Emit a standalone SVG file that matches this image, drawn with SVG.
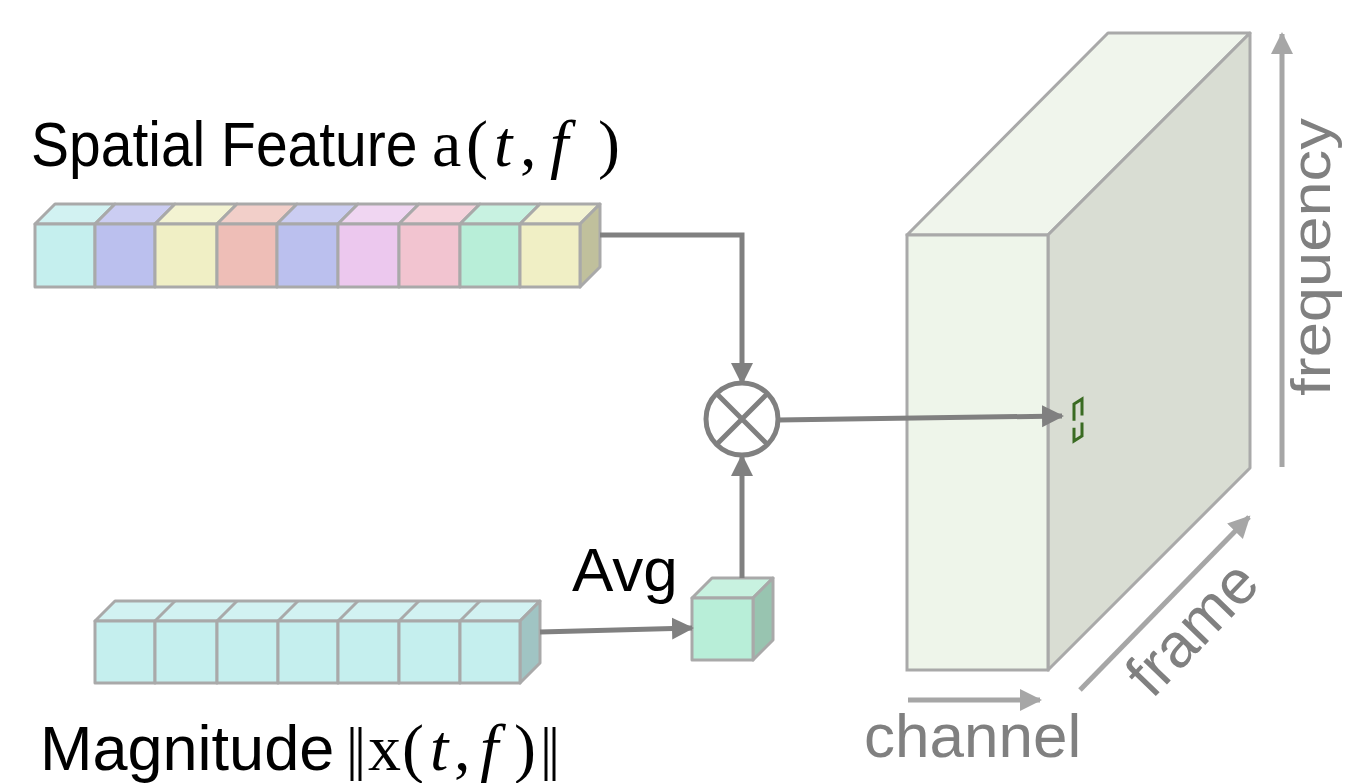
<svg xmlns="http://www.w3.org/2000/svg" width="1357" height="783" viewBox="0 0 1357 783">
<defs>
<style>
.cell{stroke:#a9a9a9;stroke-width:3;stroke-linejoin:round}
.lbl{font-family:"Liberation Sans",Arial,sans-serif;fill:#000}
.math{font-family:"Liberation Serif","Times New Roman",serif;fill:#000}
.axis{font-family:"Liberation Sans",Arial,sans-serif;fill:#808080}
.conn{stroke:#808080;stroke-width:5;fill:none}
.ax{stroke:#a6a6a6;stroke-width:5;fill:none}
</style>
<marker id="ah" markerUnits="userSpaceOnUse" markerWidth="24" markerHeight="24" refX="20" refY="11" orient="auto"><path d="M0,0 L22,11 L0,22 Z" fill="#808080"/></marker>
<marker id="ah2" markerUnits="userSpaceOnUse" markerWidth="24" markerHeight="24" refX="20" refY="11" orient="auto"><path d="M0,0 L22,11 L0,22 Z" fill="#a6a6a6"/></marker>
</defs>
<rect width="1357" height="783" fill="#fff"/>

<g id="spatial-label">
<text class="lbl" font-size="57" transform="translate(31,166) scale(1,1.1)">Spatial Feature</text>
<text class="math" y="166" font-size="66"><tspan x="432">a</tspan><tspan x="466">(</tspan><tspan x="494" font-style="italic">t</tspan><tspan x="520">,</tspan><tspan x="550" font-style="italic">f</tspan><tspan x="598">)</tspan></text>
</g>

<g id="spatial-bar">
<polygon class="cell" points="35,224 55,204 115,204 95,224" fill="#d2f2f2"/>
<polygon class="cell" points="95,224 115,204 175,204 155,224" fill="#cbcdf2"/>
<polygon class="cell" points="155,224 175,204 237,204 217,224" fill="#f3f3d2"/>
<polygon class="cell" points="217,224 237,204 297,204 277,224" fill="#f2cfc9"/>
<polygon class="cell" points="277,224 297,204 358,204 338,224" fill="#cbcdf2"/>
<polygon class="cell" points="338,224 358,204 419,204 399,224" fill="#f0d6f2"/>
<polygon class="cell" points="399,224 419,204 480,204 460,224" fill="#f5d3dc"/>
<polygon class="cell" points="460,224 480,204 540,204 520,224" fill="#c8f2e1"/>
<polygon class="cell" points="520,224 540,204 600,204 580,224" fill="#f3f3d2"/>
<polygon class="cell" points="580,224 600,204 600,267 580,287" fill="#c0c09c"/>
<rect class="cell" x="35" y="224" width="60" height="63" fill="#c5efee"/>
<rect class="cell" x="95" y="224" width="60" height="63" fill="#bbc0ee"/>
<rect class="cell" x="155" y="224" width="62" height="63" fill="#f0efc5"/>
<rect class="cell" x="217" y="224" width="60" height="63" fill="#eebeb7"/>
<rect class="cell" x="277" y="224" width="61" height="63" fill="#bbc0ee"/>
<rect class="cell" x="338" y="224" width="61" height="63" fill="#ecc8ee"/>
<rect class="cell" x="399" y="224" width="61" height="63" fill="#f2c4d0"/>
<rect class="cell" x="460" y="224" width="60" height="63" fill="#b8eed8"/>
<rect class="cell" x="520" y="224" width="60" height="63" fill="#f0efc5"/>
</g>

<g id="magnitude-bar">
<polygon class="cell" points="95,621 115,601 540,601 520,621" fill="#d2f2f2"/>
<polygon class="cell" points="520,621 540,601 540,663 520,683" fill="#a0c4c3"/>
<path class="cell" d="M155,621 L175,601 M217,621 L237,601 M278,621 L298,601 M338,621 L358,601 M399,621 L419,601 M460,621 L480,601" fill="none"/>
<rect class="cell" x="95" y="621" width="60" height="62" fill="#c5efee"/>
<rect class="cell" x="155" y="621" width="62" height="62" fill="#c5efee"/>
<rect class="cell" x="217" y="621" width="61" height="62" fill="#c5efee"/>
<rect class="cell" x="278" y="621" width="60" height="62" fill="#c5efee"/>
<rect class="cell" x="338" y="621" width="61" height="62" fill="#c5efee"/>
<rect class="cell" x="399" y="621" width="61" height="62" fill="#c5efee"/>
<rect class="cell" x="460" y="621" width="60" height="62" fill="#c5efee"/>
</g>

<g id="magnitude-label">
<text class="lbl" x="40" y="770" font-size="63">Magnitude</text>
<text class="math" y="768" font-size="60" letter-spacing="-4"><tspan x="346">||</tspan><tspan x="540">||</tspan></text>
<text class="math" y="770" font-size="66"><tspan x="368">x</tspan><tspan x="402">(</tspan><tspan x="430" font-style="italic">t</tspan><tspan x="454">,</tspan><tspan x="480" font-style="italic">f</tspan><tspan x="514">)</tspan></text>
</g>

<g id="avg-box">
<polygon class="cell" points="692,598 712,578 773,578 753,598" fill="#c8f2e0"/>
<polygon class="cell" points="753,598 773,578 773,640 753,660" fill="#98c4b0"/>
<rect class="cell" x="692" y="598" width="61" height="62" fill="#b8eed8"/>
<text class="lbl" x="572" y="591" font-size="62">Avg</text>
</g>

<g id="multiply">
<circle cx="742" cy="419" r="36" fill="#fff" stroke="#808080" stroke-width="5"/>
<path d="M716.5,393.5 L767.5,444.5 M767.5,393.5 L716.5,444.5" stroke="#808080" stroke-width="5"/>
</g>

<g id="feature-volume">
<polygon points="907,235 1108,33 1250,33 1048,235" fill="#f0f5ec" stroke="#a9a9a9" stroke-width="3" stroke-linejoin="round"/>
<polygon points="1048,235 1250,33 1250,468 1048,670" fill="#d9ddd3" stroke="#a9a9a9" stroke-width="3" stroke-linejoin="round"/>
<rect x="907" y="235" width="141" height="435" fill="#eef5ea" stroke="#a9a9a9" stroke-width="3"/>
<path d="M1074,404 L1082,399 L1082,436 L1074,441 Z" fill="none" stroke="#3a6b22" stroke-width="3" stroke-dasharray="26 7 36 7 20"/>
</g>

<g id="axes">
<line class="ax" x1="1282" y1="467" x2="1282" y2="34" marker-end="url(#ah2)"/>
<text class="axis" font-size="56" transform="translate(1330,396) scale(1,1.13) rotate(-90)">frequency</text>
<line class="ax" x1="1080" y1="690" x2="1249" y2="517" marker-end="url(#ah2)"/>
<text class="axis" font-size="62" transform="translate(1152,700) rotate(-46)">frame</text>
<line class="ax" x1="908" y1="700" x2="1040" y2="700" marker-end="url(#ah2)"/>
<text class="axis" x="864" y="757" font-size="62">channel</text>
</g>

<g id="connectors">
<path class="conn" d="M600,235 H742 V383" marker-end="url(#ah)"/>
<path class="conn" d="M742,578 V456" marker-end="url(#ah)"/>
<path class="conn" d="M778,420 L1062,416" marker-end="url(#ah)"/>
<path class="conn" d="M540,632 L692,628" marker-end="url(#ah)"/>
</g>
</svg>
